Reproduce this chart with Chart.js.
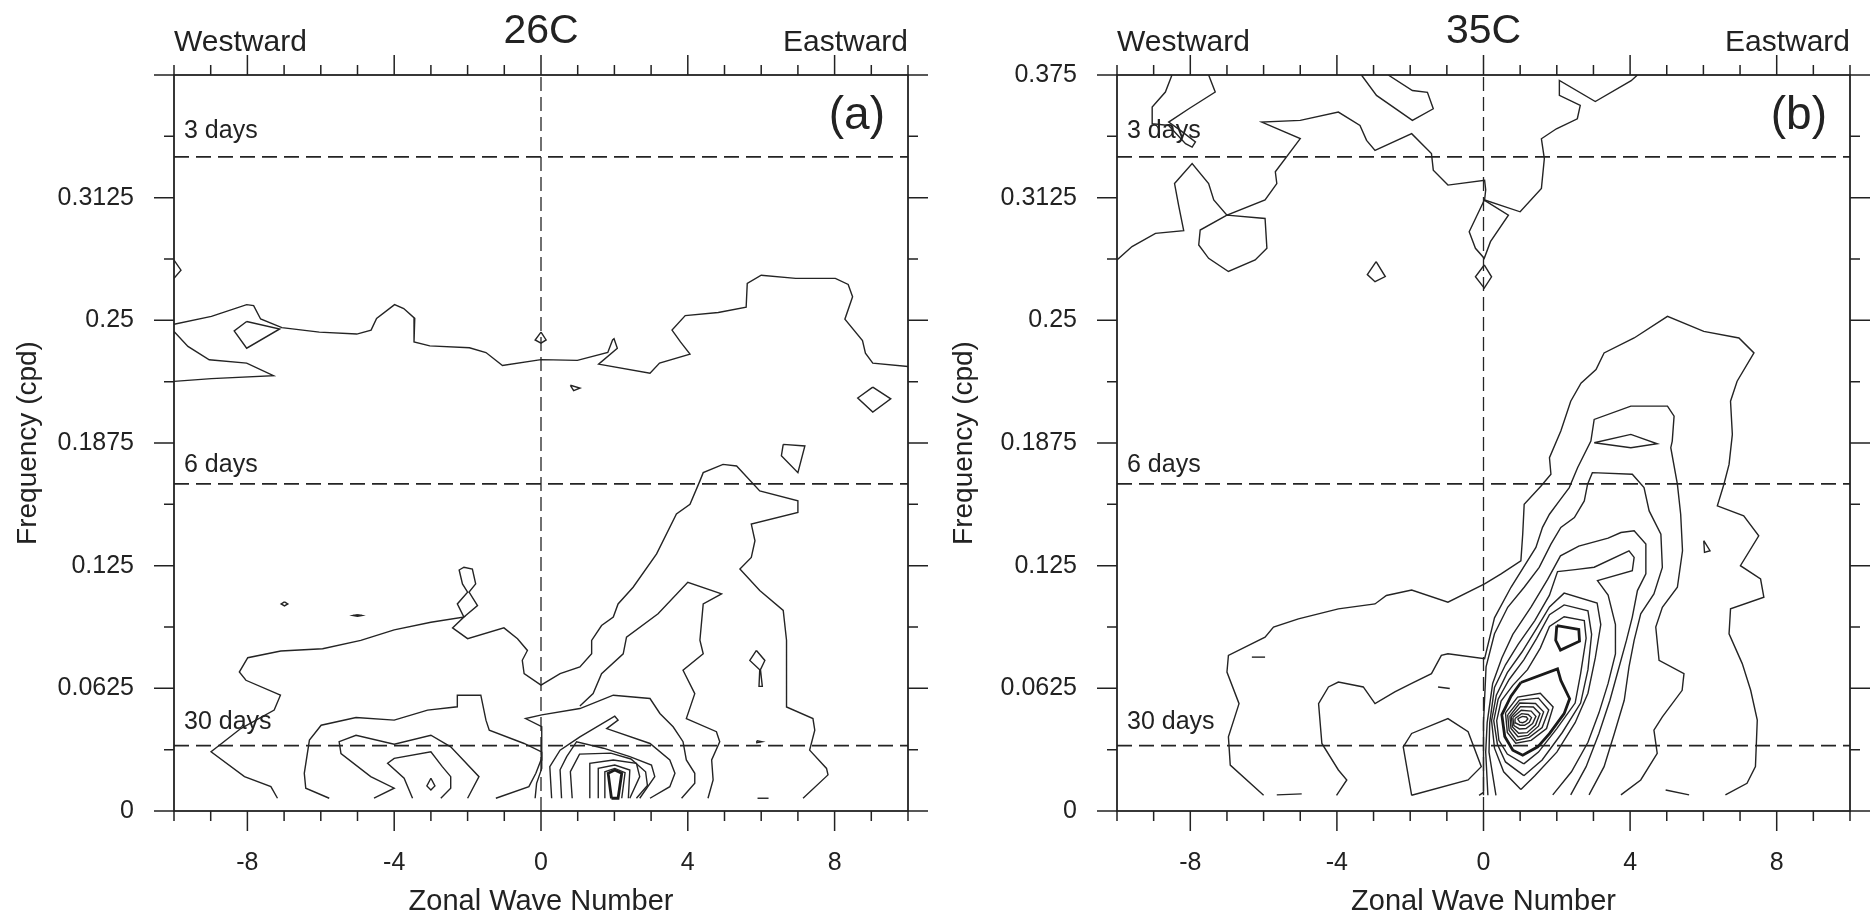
<!DOCTYPE html>
<html>
<head>
<meta charset="utf-8">
<script src="https://cdn.jsdelivr.net/npm/chart.js@4.4.1/dist/chart.umd.min.js"></script>
<style>
  body { margin: 0; background: #fff; }
  canvas { position: absolute; top: 0; }
</style>
</head>
<body>
<canvas id="chartA" width="936" height="917" style="left:0"></canvas>
<canvas id="chartB" width="937" height="917" style="left:936px"></canvas>
<script>
// ---- axes ----
const waveRange = [-10, 10];
const freqRange = [0, 0.375];
const xMajorTicks = [-8, -4, 0, 4, 8];
const xMinorTicks = [-10, -9, -7, -6, -5, -3, -2, -1, 1, 2, 3, 5, 6, 7, 9, 10];
const yMajorTicks = [0, 0.0625, 0.125, 0.1875, 0.25, 0.3125, 0.375];
const yMinorTicks = [0.03125, 0.09375, 0.15625, 0.21875, 0.28125, 0.34375];
const yTickLabelsA = ['0', '0.0625', '0.125', '0.1875', '0.25', '0.3125', ''];
const yTickLabelsB = ['0', '0.0625', '0.125', '0.1875', '0.25', '0.3125', '0.375'];
const periodDays = [3, 6, 30];

// ---- panel (a) 26C contours: [wave number, frequency] ----
const a_upperBand = [[-10,0.248],[-8.98,0.252],[-8.02,0.258],[-7.83,0.2575],[-7.64,0.2507],[-7.06,0.2463],[-6.04,0.244],[-5.02,0.243],[-4.63,0.245],[-4.48,0.251],[-3.99,0.258],[-3.74,0.256],[-3.44,0.251],[-3.46,0.239],[-3.03,0.237],[-1.95,0.236],[-1.5,0.2336],[-1.05,0.227],[0,0.23],[0.99,0.2296],[1.82,0.2336],[1.95,0.24],[1.99,0.2406],[2.08,0.2358],[1.57,0.2277],[2.97,0.2231],[3.23,0.2282],[4.06,0.2328],[3.8,0.239],[3.57,0.245],[3.93,0.2524],[4.83,0.254],[5.59,0.2567],[5.62,0.2688],[6.0,0.273],[6.94,0.2714],[8.02,0.2714],[8.37,0.2683],[8.49,0.262],[8.28,0.2506],[8.76,0.2397],[8.84,0.2333],[9.04,0.2282],[10,0.2265]];
const a_lowerBand = [[-10,0.2443],[-9.62,0.2367],[-9.04,0.2299],[-8.02,0.2282],[-7.29,0.2218],[-8.98,0.2203],[-10,0.2189]];
const a_diamondW = [[-8.02,0.2494],[-7.12,0.2456],[-8.02,0.2358],[-8.36,0.2446],[-8.02,0.2494]];
const a_edgeBlip = [[-10,0.2807],[-9.81,0.2756],[-10,0.2714]];
const a_dropZero = [[0,0.244],[0.14,0.24],[0,0.2384],[-0.16,0.24],[0,0.244]];
const a_tinyTri = [[0.8,0.2169],[1.06,0.2155],[0.89,0.2142],[0.8,0.2169]];
const a_diamondE = [[9.04,0.216],[9.53,0.21],[9.04,0.2033],[8.63,0.2104],[9.04,0.216]];
const a_ovalE = [[6.6,0.1868],[7.19,0.186],[7.0,0.1724],[6.55,0.181],[6.6,0.1868]];
const a_mainOuter = [[-7.18,0.0065],[-7.36,0.0124],[-8.08,0.0175],[-8.99,0.0302],[-8.18,0.042],[-7.27,0.0514],[-7.1,0.059],[-8.04,0.0666],[-8.22,0.0708],[-7.99,0.0781],[-7.09,0.0815],[-5.95,0.0827],[-4.91,0.0869],[-4.0,0.0923],[-3.0,0.0962],[-2.1,0.0988],[-2.41,0.0933],[-2.0,0.0878],[-1.01,0.0933],[-0.64,0.0878],[-0.37,0.0818],[-0.51,0.0768],[-0.46,0.07],[0.0,0.0641],[0.52,0.07],[1.06,0.0734],[1.38,0.0801],[1.38,0.0869],[1.65,0.0945],[1.97,0.0988],[2.1,0.1055],[2.51,0.114],[3.15,0.131],[3.69,0.1513],[4.06,0.1563],[4.33,0.1682],[4.42,0.1724],[4.96,0.1766],[5.33,0.1758],[5.96,0.1631],[7.0,0.158],[7.0,0.1521],[5.73,0.1462],[5.83,0.1377],[5.73,0.1292],[5.42,0.1233],[5.96,0.1123],[6.6,0.1022],[6.69,0.087],[6.69,0.0734],[6.69,0.053],[7.41,0.0471],[7.46,0.0412],[7.32,0.031],[7.78,0.0217],[7.82,0.0184],[7.14,0.0065]];
const a_figureEight = [[-2.1,0.0988],[-1.73,0.1047],[-1.96,0.1115],[-1.78,0.1157],[-1.87,0.1233],[-2.1,0.1242],[-2.23,0.1228],[-2.14,0.1157],[-2.0,0.1115],[-2.28,0.1055],[-2.1,0.0988]];
const a_secondWest = [[-5.77,0.0065],[-6.41,0.0116],[-6.45,0.0192],[-6.31,0.0361],[-5.99,0.0437],[-5.04,0.0476],[-4.0,0.0463],[-3.09,0.0514],[-2.28,0.0531],[-2.28,0.059],[-1.64,0.059],[-1.5,0.0463],[-1.41,0.0412],[-0.46,0.0344],[0.0,0.0302],[0.02,0.0217],[-0.12,0.0141],[-0.16,0.0065]];
const a_thirdEast = [[-1.23,0.0065],[-0.33,0.0124],[-0.14,0.0192],[0.0,0.026],[0.02,0.043],[-0.42,0.0471],[0.02,0.049],[1.06,0.0522],[1.97,0.059],[2.97,0.0573],[3.24,0.0497],[3.6,0.0429],[3.87,0.0353],[3.96,0.026],[4.19,0.0192],[4.19,0.0141],[3.83,0.0065]];
const a_secondEast = [[1.06,0.0535],[1.42,0.0598],[1.65,0.07],[2.24,0.0801],[2.33,0.0886],[3.19,0.1005],[4.0,0.1165],[4.92,0.1106],[4.42,0.1055],[4.33,0.087],[4.42,0.0801],[3.87,0.0717],[4.19,0.0598],[3.96,0.0471],[4.78,0.0404],[4.87,0.0353],[4.65,0.026],[4.69,0.0158],[4.55,0.0065]];
const a_peak1 = [[0.29,0.0065],[0.24,0.0226],[0.52,0.031],[1.06,0.0378],[2.01,0.0483],[2.1,0.0463],[1.79,0.042],[2.97,0.0344],[3.51,0.026],[3.65,0.0192],[3.51,0.0124],[2.97,0.0065]];
const a_peak2 = [[0.56,0.0065],[0.52,0.021],[0.7,0.0277],[0.97,0.0353],[1.7,0.032],[2.42,0.0277],[3.01,0.0234],[3.1,0.0175],[2.69,0.0065]];
const a_peak3 = [[0.85,0.0065],[0.8,0.02],[1.05,0.029],[1.9,0.0295],[2.45,0.0265],[2.85,0.02],[2.9,0.013],[2.6,0.0065]];
const a_peak4 = [[1.33,0.0065],[1.33,0.0243],[1.97,0.026],[2.6,0.0243],[2.69,0.0175],[2.42,0.0065]];
const a_peak5 = [[1.56,0.0065],[1.56,0.0217],[2.01,0.0234],[2.42,0.0209],[2.38,0.0065]];
const a_peak6 = [[1.74,0.0065],[1.74,0.02],[2.01,0.0217],[2.29,0.0195],[2.2,0.0065]];
const a_peakCore = [[1.92,0.0065],[1.83,0.0192],[2.01,0.0209],[2.2,0.0192],[2.1,0.0065],[1.92,0.0065]];
const a_west1 = [[-4.55,0.0065],[-4.0,0.0116],[-4.64,0.0175],[-5.45,0.0293],[-5.5,0.0353],[-5.04,0.0386],[-4.0,0.034],[-3.0,0.0386],[-2.46,0.0327],[-1.69,0.0175],[-2.0,0.0065]];
const a_west2 = [[-3.5,0.0065],[-3.73,0.0167],[-4.18,0.0243],[-4.0,0.0268],[-3.0,0.0302],[-2.69,0.0226],[-2.46,0.0175],[-2.46,0.0116],[-2.73,0.0065]];
const a_west3 = [[-3.0,0.0167],[-2.89,0.0128],[-3.0,0.0107],[-3.11,0.0128],[-3.0,0.0167]];
const a_speck1 = [[-6.99,0.1065],[-6.9,0.1055],[-6.99,0.1045],[-7.08,0.1055],[-6.99,0.1065]];
const a_speck2 = [[-5.0,0.1],[-4.88,0.0996],[-5.0,0.0992],[-5.12,0.0996],[-5.0,0.1]];
const a_eightE = [[5.87,0.0818],[6.1,0.0767],[5.98,0.072],[6.03,0.0635],[5.94,0.0635],[5.96,0.072],[5.69,0.0767],[5.87,0.0818]];
const a_speck3 = [[5.88,0.0358],[6.02,0.0353],[5.88,0.0348],[5.88,0.0358]];
const a_dash = [[5.9,0.0065],[6.2,0.0065]];

// ---- panel (b) 35C contours ----
const b_outer = [[-6.0,0.008],[-6.91,0.0234],[-6.96,0.0378],[-6.67,0.0547],[-7.0,0.0708],[-6.96,0.0793],[-5.96,0.0886],[-5.73,0.0937],[-5.05,0.0979],[-3.96,0.103],[-2.96,0.1055],[-2.65,0.1098],[-1.96,0.1126],[-0.97,0.1064],[0.03,0.1157],[0.48,0.1208],[1.02,0.1275],[1.07,0.141],[1.11,0.1563],[1.57,0.1656],[1.84,0.1716],[1.8,0.18],[2.11,0.1936],[2.38,0.2088],[2.66,0.218],[3.07,0.2249],[3.29,0.2334],[4.11,0.241],[5.02,0.252],[6.01,0.2444],[6.97,0.241],[7.38,0.2334],[6.92,0.219],[6.74,0.2088],[6.79,0.1919],[6.7,0.1766],[6.56,0.1665],[6.38,0.1555],[7.1,0.1504],[7.51,0.1402],[7.01,0.125],[7.56,0.1182],[7.65,0.1089],[6.74,0.103],[6.7,0.0903],[7.06,0.0751],[7.29,0.0615],[7.47,0.0463],[7.42,0.0226],[7.19,0.0141],[6.6,0.0082]];
const b_level2 = [[-4.01,0.008],[-3.73,0.0158],[-3.96,0.0209],[-4.41,0.0344],[-4.5,0.0547],[-4.23,0.0632],[-3.96,0.0657],[-3.28,0.0632],[-2.96,0.0547],[-2.42,0.0607],[-1.96,0.065],[-1.42,0.07],[-1.15,0.0793],[-0.97,0.0801],[0.03,0.0776],[0.3,0.0984],[0.75,0.114],[1.43,0.1343],[1.61,0.1445],[1.8,0.1512],[2.07,0.158],[2.34,0.1648],[2.57,0.175],[2.93,0.1885],[3.02,0.1995],[4.02,0.2063],[5.02,0.2063],[5.2,0.2012],[5.15,0.1885],[5.11,0.1851],[5.29,0.1665],[5.38,0.1512],[5.43,0.1326],[5.29,0.114],[4.88,0.1038],[4.7,0.0937],[4.79,0.0768],[5.47,0.07],[5.42,0.0615],[4.88,0.048],[4.65,0.0412],[4.74,0.0294],[4.29,0.0158],[3.75,0.0082]];
const b_lens = [[3.02,0.1876],[4.02,0.1919],[4.74,0.1871],[4.02,0.1851],[3.02,0.1876]];
const b_level3 = [[0.0,0.008],[0.0,0.045],[0.07,0.0734],[0.3,0.0903],[0.66,0.1038],[1.11,0.114],[1.52,0.1241],[1.84,0.136],[2.11,0.1445],[2.48,0.1495],[2.75,0.158],[2.84,0.1665],[2.97,0.1724],[4.06,0.1716],[4.38,0.1648],[4.52,0.1529],[4.84,0.141],[4.88,0.1241],[4.65,0.1106],[4.29,0.1005],[4.11,0.0869],[3.97,0.0734],[3.84,0.0564],[3.57,0.0395],[3.29,0.0226],[2.88,0.0082]];
const b_level4 = [[0.12,0.008],[0.06,0.03],[0.1,0.045],[0.25,0.065],[0.5,0.078],[0.8,0.09],[1.3,0.104],[1.75,0.118],[2.1,0.13],[2.6,0.135],[3.4,0.139],[3.75,0.1419],[4.11,0.1428],[4.43,0.136],[4.43,0.1208],[4.2,0.1123],[4.06,0.0988],[3.9,0.0869],[3.7,0.0734],[3.45,0.0564],[3.15,0.0395],[2.8,0.0226],[2.38,0.0082]];
const b_level5 = [[0.34,0.008],[0.15,0.03],[0.17,0.045],[0.3,0.063],[0.6,0.0745],[0.95,0.085],[1.4,0.097],[1.8,0.11],[2.02,0.122],[2.5,0.123],[3.02,0.1242],[3.97,0.1326],[4.11,0.1292],[4.06,0.1224],[3.11,0.1174],[3.4,0.11],[3.6,0.095],[3.6,0.08],[3.4,0.065],[3.15,0.05],[2.85,0.035],[2.4,0.02],[1.89,0.0082]];
const b_level6 = [[1.02,0.011],[1.4,0.018],[2.0,0.03],[2.5,0.045],[2.85,0.06],[3.05,0.078],[3.2,0.095],[3.1,0.106],[2.2,0.111],[1.8,0.104],[1.45,0.093],[1.05,0.081],[0.65,0.0705],[0.35,0.059],[0.22,0.046],[0.3,0.032],[0.55,0.02],[1.02,0.011]];
const b_level7 = [[1.1,0.018],[1.6,0.026],[2.15,0.04],[2.65,0.055],[2.85,0.072],[2.95,0.09],[2.85,0.102],[2.2,0.105],[1.8,0.1],[1.45,0.088],[1.1,0.077],[0.7,0.067],[0.4,0.057],[0.28,0.046],[0.38,0.034],[0.6,0.025],[1.1,0.018]];
const b_level8 = [[1.1,0.024],[1.5,0.03],[2.0,0.042],[2.5,0.055],[2.65,0.07],[2.8,0.088],[2.75,0.097],[2.2,0.099],[1.8,0.094],[1.55,0.083],[1.2,0.072],[0.8,0.064],[0.48,0.056],[0.36,0.046],[0.42,0.036],[0.65,0.029],[1.1,0.024]];
const b_thickLow = [[1.02,0.0655],[2.02,0.0724],[2.11,0.0665],[2.35,0.0572],[2.2,0.0496],[1.8,0.0394],[1.48,0.0327],[1.07,0.0284],[0.8,0.031],[0.58,0.038],[0.5,0.049],[0.75,0.0585],[1.02,0.0655]];
const b_thickHigh = [[2.0,0.0945],[2.6,0.0925],[2.62,0.0865],[2.1,0.082],[1.97,0.087],[2.0,0.0945]];
const b_core1 = [[0.6,0.05],[0.93,0.058],[1.55,0.06],[1.9,0.053],[1.72,0.042],[1.3,0.036],[0.88,0.0345],[0.65,0.04],[0.6,0.05]];
const b_core2 = [[0.66,0.049],[0.98,0.0565],[1.5,0.0575],[1.78,0.0515],[1.6,0.0425],[1.25,0.0375],[0.9,0.036],[0.7,0.041],[0.66,0.049]];
const b_core3 = [[0.72,0.0485],[0.99,0.055],[1.42,0.0548],[1.64,0.0505],[1.5,0.0432],[1.21,0.0385],[0.94,0.0378],[0.75,0.042],[0.72,0.0485]];
const b_core4 = [[0.76,0.048],[1.01,0.0532],[1.36,0.053],[1.54,0.0496],[1.42,0.0438],[1.19,0.0399],[0.96,0.0396],[0.79,0.0428],[0.76,0.048]];
const b_core5 = [[0.8,0.0476],[1.03,0.0513],[1.3,0.0509],[1.43,0.0482],[1.34,0.0445],[1.16,0.042],[0.98,0.0418],[0.83,0.0435],[0.8,0.0476]];
const b_core6 = [[0.86,0.0471],[1.04,0.0496],[1.22,0.0492],[1.31,0.0476],[1.25,0.0452],[1.12,0.0437],[1.0,0.0437],[0.88,0.0448],[0.86,0.0471]];
const b_core7 = [[0.93,0.0469],[1.06,0.0482],[1.17,0.0479],[1.21,0.0469],[1.15,0.0456],[1.07,0.045],[0.99,0.0453],[0.93,0.0469]];
const b_westLoop = [[-1.96,0.008],[-2.19,0.0327],[-1.96,0.0395],[-0.97,0.0471],[-0.42,0.0404],[-0.06,0.0226],[-0.42,0.0158],[-1.96,0.008]];
const b_dash1 = [[-6.32,0.0784],[-5.96,0.0784]];
const b_dash2 = [[-1.24,0.0632],[-0.92,0.0624]];
const b_dash3 = [[-5.64,0.0082],[-4.96,0.0087]];
const b_dash4 = [[4.97,0.0107],[5.61,0.0082]];
const b_dash5 = [[-0.12,0.008],[0.0,0.0095]];
const b_topHook = [[-8.5,0.375],[-8.68,0.3663],[-9.04,0.3587],[-9.04,0.3502],[-8.59,0.3493],[-8.13,0.34],[-7.95,0.3383],[-7.86,0.3409],[-8.27,0.3468],[-8.59,0.351],[-8.04,0.3578],[-7.32,0.3663],[-7.5,0.375]];
const b_topBand = [[-10,0.2808],[-9.59,0.2876],[-8.95,0.2943],[-8.18,0.2957],[-8.32,0.3087],[-8.43,0.3197],[-7.95,0.3299],[-7.5,0.3197],[-7.36,0.3113],[-7.0,0.3036],[-5.96,0.3113],[-5.64,0.3197],[-5.68,0.3257],[-5.0,0.3426],[-6.05,0.351],[-5.0,0.3519],[-3.96,0.3561],[-3.37,0.3493],[-3.19,0.3417],[-2.96,0.3366],[-1.96,0.3451],[-1.42,0.335],[-1.37,0.3265],[-0.97,0.3189],[0.03,0.3214],[0.06,0.3165],[0.03,0.3113],[1.0,0.3053],[1.58,0.3172],[1.66,0.3324],[1.58,0.3425],[1.99,0.3476],[2.56,0.3527],[2.64,0.3595],[2.07,0.3646],[2.07,0.3722],[3.05,0.3615],[4.03,0.3721],[4.2,0.375]];
const b_loopW = [[-7.0,0.3036],[-5.96,0.3019],[-5.91,0.2867],[-6.23,0.2808],[-6.96,0.2749],[-7.5,0.2816],[-7.77,0.2884],[-7.73,0.296],[-7.0,0.3036]];
const b_lensZero = [[0.02,0.3112],[0.68,0.3036],[0.19,0.2901],[0.02,0.2816],[-0.22,0.2867],[-0.39,0.2951],[0.02,0.3112]];
const b_diamondZero = [[0.02,0.2782],[0.22,0.2722],[0.02,0.2664],[-0.22,0.2722],[0.02,0.2782]];
const b_drop = [[-2.93,0.2799],[-2.68,0.2723],[-2.96,0.2697],[-3.17,0.2733],[-2.93,0.2799]];
const b_topMid = [[-3.33,0.375],[-2.92,0.3646],[-1.94,0.3519],[-1.37,0.3578],[-1.53,0.3662],[-1.94,0.3671],[-2.6,0.375]];
const b_triE = [[6.01,0.1377],[6.18,0.1326],[6.03,0.1318],[6.01,0.1377]];

const panelA = {
  title: '26C', tag: '(a)', yLabels: yTickLabelsA, yWidth: 174, padRight: 28,
  thin: [a_upperBand, a_lowerBand, a_diamondW, a_edgeBlip, a_dropZero, a_tinyTri, a_diamondE, a_ovalE,
         a_mainOuter, a_figureEight, a_secondWest, a_thirdEast, a_secondEast, a_peak1, a_peak2, a_peak3,
         a_peak4, a_peak5, a_peak6, a_west1, a_west2, a_west3, a_speck1, a_speck2, a_eightE, a_speck3, a_dash],
  thick: [a_peakCore]
};
const panelB = {
  title: '35C', tag: '(b)', yLabels: yTickLabelsB, yWidth: 181, padRight: 23,
  thin: [b_outer, b_level2, b_lens, b_level3, b_level4, b_level5, b_level6, b_level7, b_level8,
         b_core1, b_core2, b_core3, b_core4, b_core5, b_core6, b_core7, b_westLoop,
         b_dash1, b_dash2, b_dash3, b_dash4, b_dash5, b_topHook, b_topBand, b_loopW,
         b_lensZero, b_diamondZero, b_drop, b_topMid, b_triE],
  thick: [b_thickLow, b_thickHigh]
};

const FONT = "'Liberation Sans', Arial, sans-serif";
const INK = '#222';

// frame, tick marks on all four sides and the in-plot annotations
const framePlugin = {
  id: 'frame',
  afterDatasetsDraw(chart, args, opts) {
    const { ctx, chartArea: a, scales: { x, y } } = chart;
    ctx.save();
    ctx.strokeStyle = INK;
    ctx.lineWidth = 1.8;
    ctx.strokeRect(a.left, a.top, a.right - a.left, a.bottom - a.top);

    ctx.lineWidth = 1.5;
    ctx.beginPath();
    const xt = (v, len) => {
      const px = x.getPixelForValue(v);
      ctx.moveTo(px, a.bottom); ctx.lineTo(px, a.bottom + len);
      ctx.moveTo(px, a.top); ctx.lineTo(px, a.top - len);
    };
    const yt = (v, len) => {
      const py = y.getPixelForValue(v);
      ctx.moveTo(a.left, py); ctx.lineTo(a.left - len, py);
      ctx.moveTo(a.right, py); ctx.lineTo(a.right + len, py);
    };
    xMajorTicks.forEach(v => xt(v, 20));
    xMinorTicks.forEach(v => xt(v, 10));
    yMajorTicks.forEach(v => yt(v, 20));
    yMinorTicks.forEach(v => yt(v, 10));
    ctx.stroke();

    ctx.fillStyle = INK;
    ctx.textBaseline = 'alphabetic';
    ctx.font = '41px ' + FONT;
    ctx.textAlign = 'center';
    ctx.fillText(opts.title, x.getPixelForValue(0), 43);
    ctx.font = '30px ' + FONT;
    ctx.textAlign = 'left';
    ctx.fillText('Westward', a.left, 51);
    ctx.textAlign = 'right';
    ctx.fillText('Eastward', a.right, 51);
    ctx.font = '46px ' + FONT;
    ctx.fillText(opts.tag, a.right - 23, 129);

    ctx.font = '25px ' + FONT;
    ctx.textAlign = 'left';
    const lift = { 3: 19, 6: 12, 30: 17 };
    periodDays.forEach(d => {
      ctx.fillText(d + ' days', a.left + 10, y.getPixelForValue(1 / d) - lift[d]);
    });
    ctx.restore();
  }
};

function toPts(arr) {
  return arr.map(p => ({ x: p[0], y: p[1] }));
}

function buildChart(canvasId, panel) {
  const datasets = [];
  panel.thin.forEach(c => datasets.push({
    data: toPts(c), showLine: true, borderColor: '#242424', borderWidth: 1.4,
    pointRadius: 0, tension: 0
  }));
  panel.thick.forEach(c => datasets.push({
    data: toPts(c), showLine: true, borderColor: '#1a1a1a', borderWidth: 2.8,
    pointRadius: 0, tension: 0
  }));
  periodDays.forEach(d => datasets.push({
    data: [{ x: waveRange[0], y: 1 / d }, { x: waveRange[1], y: 1 / d }],
    showLine: true, borderColor: '#242424', borderWidth: 1.8, borderDash: [15, 7],
    pointRadius: 0
  }));
  datasets.push({
    data: [{ x: 0, y: freqRange[0] }, { x: 0, y: freqRange[1] }],
    showLine: true, borderColor: '#242424', borderWidth: 1.3, borderDash: [14, 6],
    pointRadius: 0
  });

  return new Chart(document.getElementById(canvasId), {
    type: 'scatter',
    data: { datasets },
    options: {
      responsive: false,
      animation: false,
      devicePixelRatio: 1,
      layout: { padding: { top: 75, right: panel.padRight, left: 0, bottom: 0 } },
      plugins: {
        legend: { display: false },
        tooltip: { enabled: false },
        frame: { title: panel.title, tag: panel.tag }
      },
      scales: {
        x: {
          type: 'linear', position: 'bottom',
          min: waveRange[0], max: waveRange[1],
          grid: { display: false }, border: { display: false },
          afterBuildTicks: s => { s.ticks = xMajorTicks.map(v => ({ value: v })); },
          afterFit: s => { s.height = 106; },
          ticks: { color: INK, font: { family: FONT, size: 25 }, padding: 29, maxRotation: 0 },
          title: { display: true, text: 'Zonal Wave Number', color: INK,
                   font: { family: FONT, size: 29 }, padding: { top: 0, bottom: -2 } }
        },
        y: {
          type: 'linear', position: 'left',
          min: freqRange[0], max: freqRange[1],
          grid: { display: false }, border: { display: false },
          afterBuildTicks: s => { s.ticks = yMajorTicks.map(v => ({ value: v })); },
          afterFit: s => { s.width = panel.yWidth; },
          ticks: { color: INK, font: { family: FONT, size: 25 }, padding: 32,
                   callback: (v, i) => panel.yLabels[i] },
          title: { display: true, text: 'Frequency (cpd)', color: INK,
                   font: { family: FONT, size: 28 }, padding: { top: 11, bottom: 0 } }
        }
      }
    },
    plugins: [framePlugin]
  });
}

buildChart('chartA', panelA);
buildChart('chartB', panelB);
</script>
</body>
</html>
